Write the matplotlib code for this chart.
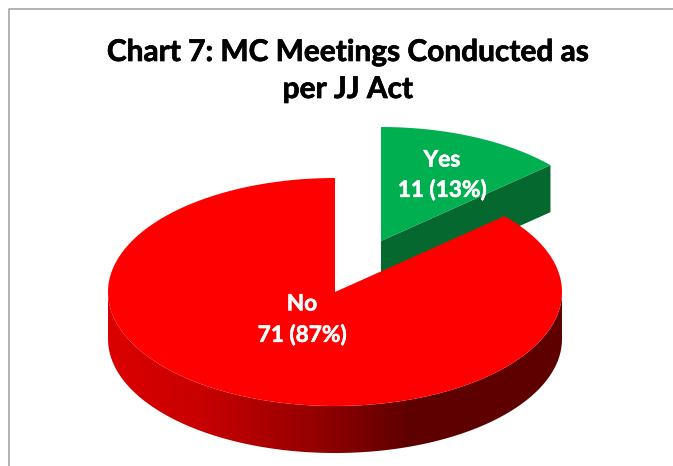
import numpy as np
import matplotlib
matplotlib.use('Agg')
import matplotlib.pyplot as plt
import matplotlib.patheffects as pe
from matplotlib.colors import LinearSegmentedColormap
from matplotlib.patches import Polygon

title_lines = ['Chart 7: MC Meetings Conducted as', 'per JJ Act']
categories = ['Yes', 'No']
counts = [11, 71]
percents = [13, 87]

# pixel layout of the flattened pie
RX, RY = 227, 114
DEPTH = 47
CENTER = (335, 292)
YES_CENTER = (381, 241)

plt.rcParams['font.family'] = ['Lato', 'DejaVu Sans']

fig = plt.figure(figsize=(6.73, 4.66), dpi=100)
ax = fig.add_axes([0, 0, 1, 1])
ax.set_xlim(0, 673)
ax.set_ylim(466, 0)
ax.axis('off')


def rim(center, start, end, n=200):
    # angles are clockwise from 12 o'clock, in degrees
    t = np.radians(np.linspace(start, end, n))
    return np.column_stack([center[0] + RX * np.sin(t), center[1] - RY * np.cos(t)])


yes_angle = 360 * counts[0] / sum(counts)

# chart area frame
ax.plot([8.5, 8.5, 673], [466, 8.5, 8.5], color='#a6a6a6', lw=1.2, zorder=1)

# green slice, wall first
corner = rim(YES_CENTER, yes_angle, yes_angle, 1)[0]
wall = [YES_CENTER, corner, (corner[0], corner[1] + DEPTH), (YES_CENTER[0], YES_CENTER[1] + DEPTH)]
ax.add_patch(Polygon(wall, closed=True, fc='#05682E', ec='none', zorder=2))
top = np.vstack([[YES_CENTER], rim(YES_CENTER, 0, yes_angle)])
ax.add_patch(Polygon(top, closed=True, fc='#00B050', ec='none', zorder=3))

# red slice, front wall with a left to right shading
cmap = LinearSegmentedColormap.from_list('wall', [
    (0.0, '#DC0000'), (0.2, '#C80000'), (0.45, '#960000'), (0.66, '#5F0000'), (1.0, '#5F0000')])
front_top = rim(CENTER, 90, 270)
front_bot = front_top[::-1] + [0, DEPTH]
wall_patch = Polygon(np.vstack([front_top, front_bot]), closed=True, fc='none', ec='none', zorder=4)
ax.add_patch(wall_patch)
im = ax.imshow(np.linspace(0, 1, 512).reshape(1, -1), cmap=cmap, aspect='auto', zorder=4,
               extent=[CENTER[0] - RX, CENTER[0] + RX, CENTER[1] + RY + DEPTH, CENTER[1] - RY])
im.set_clip_path(wall_patch)
ax.set_xlim(0, 673)
ax.set_ylim(466, 0)

top = np.vstack([[CENTER], rim(CENTER, yes_angle, 360)])
ax.add_patch(Polygon(top, closed=True, fc='#FF0000', ec='none', zorder=5))

# text, with a thin stroke since Lato bold is lighter than the original face
for y, line in zip([52, 89], title_lines):
    ax.text(348, y, line, ha='center', va='center', fontsize=21.5, fontweight='bold', color='#000000',
            zorder=6, path_effects=[pe.withStroke(linewidth=0.5, foreground='#000000')])

label_pos = [(442, 160, 190), (302, 304, 335)]
stroke = [pe.withStroke(linewidth=0.4, foreground='white')]
for (x, y1, y2), cat, n, p in zip(label_pos, categories, counts, percents):
    ax.text(x, y1, cat, ha='center', va='center', fontsize=16.3, fontweight='bold', color='white',
            zorder=6, path_effects=stroke)
    ax.text(x, y2, '%d (%d%%)' % (n, p), ha='center', va='center', fontsize=16.3, fontweight='bold',
            color='white', zorder=6, path_effects=stroke)

fig.savefig('out.png', dpi=100)
